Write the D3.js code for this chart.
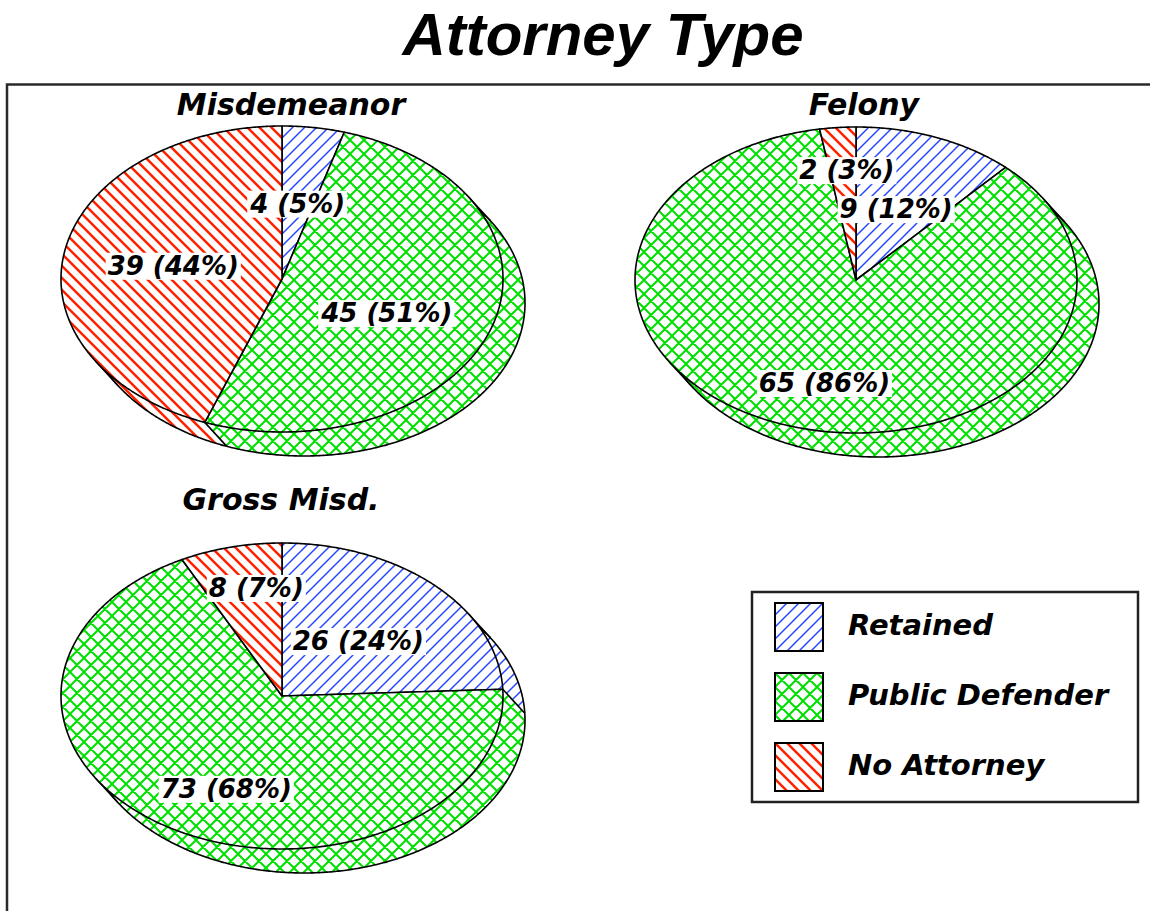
<!DOCTYPE html>
<html>
<head>
<meta charset="utf-8">
<script src="https://cdn.jsdelivr.net/npm/d3@7"></script>
<style>
    body { margin: 0; background: #fff; }
    svg { display: block; }
    text { font-family: "DejaVu Sans", sans-serif; font-weight: bold; font-style: italic; fill: #000; }
</style>
</head>
<body>
<div id="chart"></div>
<script>
// data
const chartTitle = "Attorney Type";
const categories = ["Retained", "Public Defender", "No Attorney"];
const charges = ["Misdemeanor", "Felony", "Gross Misd."];
const misdemeanorCounts = [4, 45, 39];
const felonyCounts = [9, 65, 2];
const grossMisdCounts = [26, 73, 8];

const width = 1150;
const height = 911;
const rx = 221, ry = 153;       // pie ellipse radii
const depth = [22, 24];         // offset of the pie's lower face

// one panel per charge
const panels = [
    { name: charges[0], counts: misdemeanorCounts, cx: 282, cy: 279, tx: 291, ty: 115 },
    { name: charges[1], counts: felonyCounts, cx: 856, cy: 280, tx: 864, ty: 115 },
    { name: charges[2], counts: grossMisdCounts, cx: 282, cy: 696, tx: 281, ty: 510 }
];

const svg = d3.select("#chart")
    .append("svg")
    .attr("width", width)
    .attr("height", height);

// hatch patterns
const defs = svg.append("defs");
const patterns = [
    { size: 12, d: "M-3,3L3,-3M0,12L12,0M9,15L15,9", color: "#2848ff", w: 1.5 },
    { size: 14, d: "M0,0L14,14M14,0L0,14M-1,13L1,15M13,-1L15,1M-1,1L1,-1M13,15L15,13", color: "#00e000", w: 2 },
    { size: 12, d: "M0,0L12,12M-3,9L3,15M9,-3L15,3", color: "#ff2200", w: 2.5 }
];
patterns.forEach((p, i) => {
    const pat = defs.append("pattern")
        .attr("id", "pat" + i)
        .attr("patternUnits", "userSpaceOnUse")
        .attr("width", p.size)
        .attr("height", p.size);
    pat.append("rect").attr("width", p.size).attr("height", p.size).attr("fill", "#fff");
    pat.append("path").attr("d", p.d).attr("stroke", p.color).attr("stroke-width", p.w).attr("fill", "none");
});

// frame
svg.append("path")
    .attr("d", `M7,${height}V84.5H${width}`)
    .attr("fill", "none")
    .attr("stroke", "#2a2a2a")
    .attr("stroke-width", 2.5);

svg.append("text")
    .attr("x", 603)
    .attr("y", 55)
    .attr("text-anchor", "middle")
    .style("font-family", "'Liberation Sans', Arial, sans-serif")
    .style("font-size", "60px")
    .text(chartTitle);

const pie = d3.pie().sort(null).value(d => d);
const line = d3.line();

function pt(p, a, k = 1, off = [0, 0]) {
    return [p.cx + off[0] + k * rx * Math.sin(a), p.cy + off[1] - k * ry * Math.cos(a)];
}

function arcPoints(p, a0, a1, off) {
    const n = Math.max(2, Math.ceil((a1 - a0) / (Math.PI / 360)));
    return d3.range(n + 1).map(i => pt(p, a0 + (a1 - a0) * i / n, 1, off));
}

// side band of a slice: its rim swept along the depth offset
function sidePath(p, a0, a1) {
    const pts = arcPoints(p, a0, a1, [0, 0]);
    let d = "";
    for (let i = 0; i < pts.length - 1; i++) {
        const q = [pts[i], pts[i + 1],
            [pts[i + 1][0] + depth[0], pts[i + 1][1] + depth[1]],
            [pts[i][0] + depth[0], pts[i][1] + depth[1]]];
        if (d3.polygonArea(q) < 0) q.reverse();
        d += line(q) + "Z";
    }
    return d;
}

const facing = a => depth[0] * Math.sin(a) / rx - depth[1] * Math.cos(a) / ry;
const silhouette = Math.atan2(depth[1] * rx, depth[0] * ry);

panels.forEach(p => {
    const arcs = pie(p.counts);
    const total = d3.sum(p.counts);
    const g = svg.append("g");

    // lower part
    g.selectAll("path.side")
        .data(arcs)
        .join("path")
        .attr("class", "side")
        .attr("d", a => sidePath(p, a.startAngle, a.endAngle))
        .attr("fill", a => `url(#pat${a.index})`);

    g.append("path")
        .attr("d", line(arcPoints(p, 0, 2 * Math.PI, depth)) + "Z")
        .attr("fill", "none")
        .attr("stroke", "#000")
        .attr("stroke-width", 1.6);

    const edges = arcs.map(a => a.startAngle).filter(a => facing(a) > 0)
        .concat([silhouette, silhouette + Math.PI]);
    g.selectAll("line.edge")
        .data(edges)
        .join("line")
        .attr("class", "edge")
        .attr("x1", a => pt(p, a)[0])
        .attr("y1", a => pt(p, a)[1])
        .attr("x2", a => pt(p, a, 1, depth)[0])
        .attr("y2", a => pt(p, a, 1, depth)[1])
        .attr("stroke", "#000")
        .attr("stroke-width", 1.6);

    // top face
    g.selectAll("path.slice")
        .data(arcs)
        .join("path")
        .attr("class", "slice")
        .attr("d", a => line([[p.cx, p.cy]].concat(arcPoints(p, a.startAngle, a.endAngle, [0, 0]))) + "Z")
        .attr("fill", a => `url(#pat${a.index})`)
        .attr("stroke", "#000")
        .attr("stroke-width", 1.6)
        .attr("stroke-linejoin", "round");

    g.append("text")
        .attr("x", p.tx)
        .attr("y", p.ty)
        .attr("text-anchor", "middle")
        .style("font-size", "30px")
        .text(p.name);

    // value labels with white boxes
    const placed = [];
    arcs.forEach(a => {
        const mid = (a.startAngle + a.endAngle) / 2;
        const x = p.cx + 0.5 * rx * Math.sin(mid);
        let y = p.cy - 0.5 * ry * Math.cos(mid) + 0.2 * ry * Math.max(0, -Math.cos(mid));
        const lg = g.append("g");
        const t = lg.append("text")
            .attr("x", x)
            .attr("y", y)
            .attr("dy", "0.36em")
            .attr("text-anchor", "middle")
            .style("font-size", "26px")
            .text(`${a.data} (${Math.round(a.data / total * 100)}%)`);
        let b = t.node().getBBox();
        const hit = placed.some(o => b.x < o.x + o.width && o.x < b.x + b.width &&
            b.y < o.y + o.height && o.y < b.y + b.height);
        if (hit) {
            t.attr("y", y - 34);
            b = t.node().getBBox();
        }
        placed.push(b);
        lg.insert("rect", "text")
            .attr("x", b.x - 2)
            .attr("y", b.y + 2)
            .attr("width", b.width + 4)
            .attr("height", b.height - 3)
            .attr("fill", "#fff");
    });
});

// legend
const legend = svg.append("g").attr("transform", "translate(752,592)");
legend.append("rect")
    .attr("width", 386)
    .attr("height", 210)
    .attr("fill", "#fff")
    .attr("stroke", "#222")
    .attr("stroke-width", 2.5);

const items = legend.selectAll("g.item")
    .data(categories)
    .join("g")
    .attr("class", "item")
    .attr("transform", (d, i) => `translate(23,${11 + i * 70})`);

items.append("rect")
    .attr("width", 48)
    .attr("height", 48)
    .attr("fill", (d, i) => `url(#pat${i})`)
    .attr("stroke", "#000")
    .attr("stroke-width", 2);

items.append("text")
    .attr("x", 73)
    .attr("y", 32)
    .style("font-size", "29px")
    .text(d => d);
</script>
</body>
</html>
